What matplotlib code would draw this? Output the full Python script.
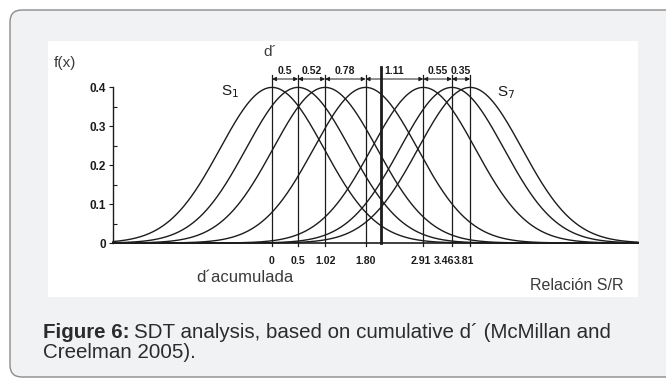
import numpy as np
import matplotlib.pyplot as plt
import matplotlib.transforms as mtransforms
from matplotlib.patches import FancyBboxPatch, Rectangle

# cumulative d' of the seven signal distributions S1..S7
means = [0, 0.5, 1.02, 1.80, 2.91, 3.46, 3.81]
mean_labels = ["0", "0.5", "1.02", "1.80", "2.91", "3.46", "3.81"]
gap_labels = ["0.5", "0.52", "0.78", "1.11", "0.55", "0.35"]
criterion = 2.1
yticks = [0, 0.1, 0.2, 0.3, 0.4]
ytick_labels = ["0", "0.1", "0.2", "0.3", "0.4"]

W, H = 666, 378
fig = plt.figure(figsize=(W / 100, H / 100), dpi=100)
fig.patch.set_facecolor("white")

def fx(px):
    return px / W

def fy(py):
    return 1 - py / H

# outer rounded card and white panel
card = FancyBboxPatch((0.10, 0.01), 7.0, 3.67, boxstyle="round,pad=0,rounding_size=0.12",
                      transform=fig.dpi_scale_trans, facecolor="#f1f2f4", edgecolor="#8c8c8c",
                      linewidth=1.0, zorder=-10)
fig.patches.append(card)
panel = Rectangle((0.48, 0.81), 5.90, 2.56, transform=fig.dpi_scale_trans,
                  facecolor="white", edgecolor="none", zorder=-9)
fig.patches.append(panel)

ink = "#1c1c1c"
narrow = ["Liberation Sans Narrow", "Liberation Sans", "DejaVu Sans"]
ax = fig.add_axes([fx(113), fy(243), 525 / W, 0.47 * 390 / H])
ax.patch.set_visible(False)
ax.set_xlim(-3.06, 7.04)
ax.set_ylim(0, 0.47)

x = np.linspace(-3.06, 7.04, 600)
for m in means:
    y = np.exp(-0.5 * (x - m) ** 2) / np.sqrt(2 * np.pi)
    ax.plot(x, y, color=ink, lw=1.0, clip_on=False)

# vertical lines at each mean and the criterion
for m in means:
    ax.plot([m, m], [-0.008, 0.431], color=ink, lw=0.9, clip_on=False)
ax.plot([criterion, criterion], [0, 0.451], color=ink, lw=2.0, clip_on=False)

# dimension arrows between consecutive means
for i, lab in enumerate(gap_labels):
    a, b = means[i], means[i + 1]
    ax.annotate("", xy=(b, 0.4205), xytext=(a, 0.4205),
                arrowprops=dict(arrowstyle="<|-|>", color=ink, lw=0.7,
                                mutation_scale=6, shrinkA=0, shrinkB=0),
                annotation_clip=False)
    ax.text((a + b) / 2, 0.441, lab, ha="center", va="center", fontsize=7.5,
            fontweight="bold", family=narrow, color=ink)

ax.text(-0.81, 0.387, "S$_1$", ha="center", va="center", fontsize=11,
        family="Liberation Sans", color=ink)
ax.text(4.5, 0.385, "S$_7$", ha="center", va="center", fontsize=11,
        family="Liberation Sans", color=ink)

for s in ["top", "right"]:
    ax.spines[s].set_visible(False)
ax.spines["left"].set_bounds(0, 0.4)
ax.spines["left"].set_color(ink)
ax.spines["bottom"].set_color(ink)
ax.spines["left"].set_linewidth(1.0)
ax.spines["bottom"].set_linewidth(1.2)

ax.set_yticks(yticks, ytick_labels)
ax.set_yticks([0.05, 0.15, 0.25, 0.35], minor=True)
ax.tick_params(axis="y", which="major", direction="out", length=3, width=0.8,
               colors=ink, pad=2, labelsize=8.5)
ax.tick_params(axis="y", which="minor", direction="in", length=3, width=0.8, colors=ink)
ax.set_xticks(means, mean_labels)
ax.tick_params(axis="x", length=0, pad=9, labelsize=7.6, colors=ink)
for t in ax.get_yticklabels():
    t.set_fontweight("bold")
    t.set_family("Liberation Sans")
for t in ax.get_xticklabels():
    t.set_fontweight("bold")
    t.set_family(narrow)

# crowded labels on the right are nudged left, as in the original
nudge = [0, 0, 0, 0, -3, -8, -6]
for t, dx in zip(ax.get_xticklabels(), nudge):
    t.set_transform(t.get_transform() + mtransforms.ScaledTranslation(dx / 100, 0, fig.dpi_scale_trans))

label_col = "#3a3a3a"
fig.text(fx(65), fy(63), "f(x)", ha="center", va="center", fontsize=11,
         family="Liberation Sans", color=label_col)
fig.text(fx(270), fy(52), "d´", ha="center", va="center", fontsize=11,
         family="Liberation Sans", color=label_col)
fig.text(fx(245), fy(277), "d´acumulada", ha="center", va="center", fontsize=12,
         family="Liberation Sans", color=label_col)
fig.text(fx(577), fy(285), "Relación S/R", ha="center", va="center", fontsize=11.5,
         family="Liberation Sans", color=label_col)

# caption
cap_col = "#2b2b2b"
t1 = fig.text(fx(43), fy(332), "Figure 6:", ha="left", va="center", fontsize=14.8,
              fontweight="bold", family="Liberation Sans", color=cap_col)
fig.canvas.draw()
bb = t1.get_window_extent()
fig.text((bb.x1 + 4) / W, fy(332), "SDT analysis, based on cumulative d´ (McMillan and",
         ha="left", va="center", fontsize=14.8, family="Liberation Sans", color=cap_col)
fig.text(fx(43), fy(353), "Creelman 2005).", ha="left", va="center", fontsize=14.8,
         family="Liberation Sans", color=cap_col)

fig.savefig("out.png", dpi=100)
